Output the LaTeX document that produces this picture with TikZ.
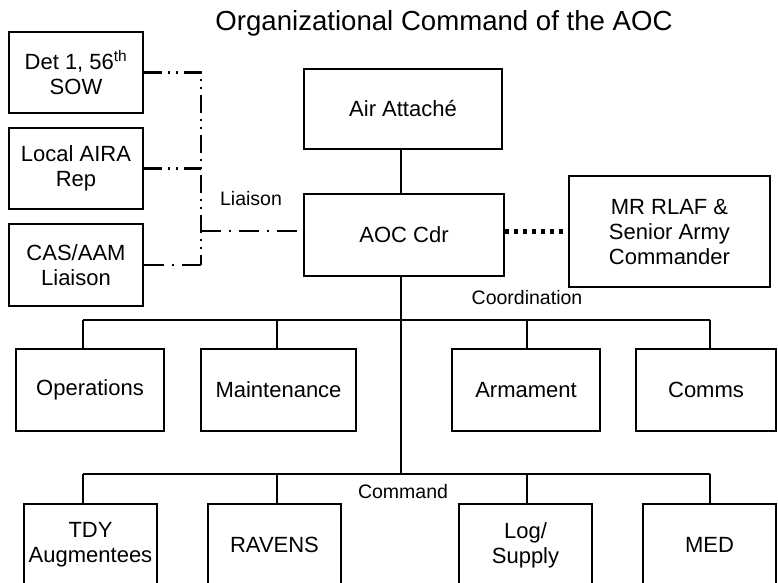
\documentclass[tikz,border=0pt]{standalone}
\usepackage{fontspec}
\setmainfont{Liberation Sans}
\begin{document}
\begin{tikzpicture}[x=1pt,y=-1pt,
  box/.style={draw, line width=1.8pt, align=center, inner sep=0pt,
    font=\fontsize{22}{25}\selectfont},
  lbl/.style={font=\fontsize{19.5}{21}\selectfont, inner sep=0pt},
  solidline/.style={line width=2.6pt},
  ddot/.style={line width=2.4pt, dash pattern=on 18pt off 6pt on 2pt off 6pt on 2pt off 6pt},
  dashdot/.style={line width=2.4pt, dash pattern=on 20pt off 8pt on 2pt off 8pt},
  thickdot/.style={line width=4.5pt, dash pattern=on 4.5pt off 4.5pt}]
\useasboundingbox (0,0) rectangle (778,582);

% title
\node[font=\fontsize{27.6}{30}\selectfont, anchor=base, inner sep=0pt] (title) at (444,30)
  {Organizational Command of the AOC};

% liaison boxes
\node[box, minimum width=134, minimum height=81] (det)  at (76,72.5)  {Det 1, 56\textsuperscript{th}\\SOW};
\node[box, minimum width=134, minimum height=81] (aira) at (76,168.5) {Local AIRA\\Rep};
\node[box, minimum width=134, minimum height=82] (cas)  at (76,265)   {CAS/AAM\\Liaison};

% command spine
\node[box, minimum width=198, minimum height=80]  (att) at (403,109)   {Air Attaché};
\node[box, minimum width=200, minimum height=82]  (aoc) at (404,235)   {AOC Cdr};
\node[box, minimum width=201, minimum height=111] (mr)  at (669.5,231.5) {MR RLAF \&\\Senior Army\\Commander};

% coordination row
\node[box, minimum width=148, minimum height=82] (ops) at (90,390)    {Operations};
\node[box, minimum width=155, minimum height=82] (mnt) at (278.5,390) {Maintenance};
\node[box, minimum width=148, minimum height=82] (arm) at (526,390)   {Armament};
\node[box, minimum width=140, minimum height=82] (com) at (706,390)   {Comms};

% command row
\node[box, minimum width=133, minimum height=82] (tdy) at (90.5,545)  {TDY\\Augmentees};
\node[box, minimum width=133, minimum height=82] (rav) at (274.5,545) {RAVENS};
\node[box, minimum width=133, minimum height=82] (lgs) at (525.5,545) {Log/\\Supply};
\node[box, minimum width=133, minimum height=82] (med) at (709.5,545) {MED};

% junction points
\coordinate (b1) at (401,320);
\coordinate (b2) at (401,474);
\coordinate (lv) at (201,0);
\coordinate (c1) at (83,320);  \coordinate (c2) at (277,320);
\coordinate (c3) at (527,320); \coordinate (c4) at (710,320);
\coordinate (e1) at (83,474);  \coordinate (e2) at (277,474);
\coordinate (e3) at (527,474); \coordinate (e4) at (710,474);

% spine
\draw[solidline] (att.south -| b1) -- (aoc.north -| b1);
\draw[solidline] (aoc.south -| b1) -- (b2);

% coordination bar
\draw[solidline] (c1) -- (c4);
\draw[solidline] (c1) -- (c1 |- ops.north);
\draw[solidline] (c2) -- (c2 |- mnt.north);
\draw[solidline] (c3) -- (c3 |- arm.north);
\draw[solidline] (c4) -- (c4 |- com.north);

% command bar
\draw[solidline] (e1) -- (e4);
\draw[solidline] (e1) -- (e1 |- tdy.north);
\draw[solidline] (e2) -- (e2 |- rav.north);
\draw[solidline] (e3) -- (e3 |- lgs.north);
\draw[solidline] (e4) -- (e4 |- med.north);

% liaison links
\draw[ddot] (det.east) -- (det.east -| lv) -- (cas.east -| lv);
\draw[ddot] (aira.east) -- (aira.east -| lv);
\draw[dashdot] (cas.east) -- (cas.east -| lv);
\draw[dashdot] ([yshift=4pt]aoc.west -| lv) -- ([yshift=4pt]aoc.west);

% coordination with host nation
\draw[thickdot] (aoc.east |- mr.west) -- (mr.west);

% link labels
\node[lbl] (liaison) at (251,199) {Liaison};
\node[lbl] (coord) at (527,298) {Coordination};
\node[lbl] (cmd) at (403,492) {Command};
\end{tikzpicture}
\end{document}
